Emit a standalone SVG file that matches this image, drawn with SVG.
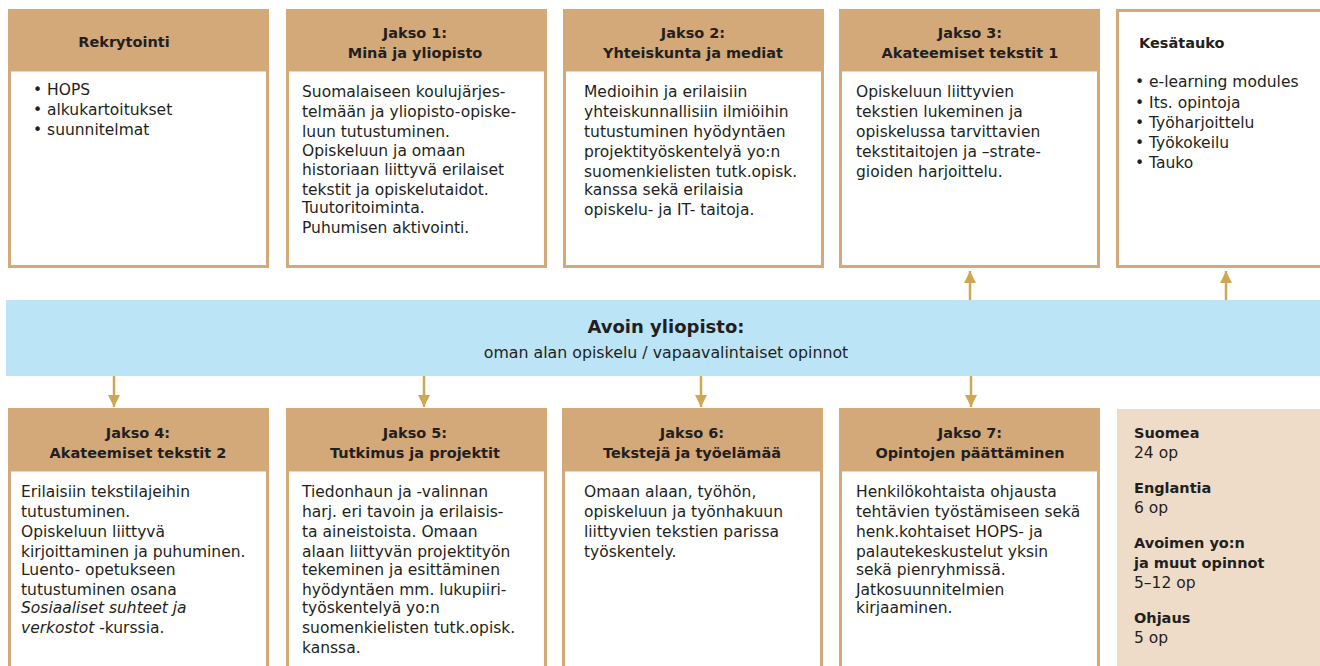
<svg xmlns="http://www.w3.org/2000/svg" width="1320" height="666" viewBox="0 0 1320 666">
<defs>
<style>
.box{fill:#fff;stroke:#d4a97a;stroke-width:3}
.hdr{fill:#d4a97a}
.t{font-family:"DejaVu Sans","Open Sans",sans-serif;font-size:15.5px;fill:#231f20}
.h{font-family:"DejaVu Sans","Open Sans",sans-serif;font-size:14.5px;font-weight:bold;fill:#231f20}
.c{text-anchor:middle}
.conn{stroke:#cfa752;stroke-width:2.5;fill:none}
</style>
<marker id="ah" viewBox="0 0 10 10" refX="10" refY="5" markerWidth="12" markerHeight="12" markerUnits="userSpaceOnUse" orient="auto">
<path d="M0,0 L10,5 L0,10 z" fill="#cfa752"/>
</marker>
</defs>
<rect width="1320" height="666" fill="#fff"/>

<g id="rekrytointi">
<rect class="box" x="9.5" y="10.5" width="258" height="256"/>
<rect class="hdr" x="9.5" y="10.5" width="258" height="61"/>
<text class="h c" x="124" y="47">Rekrytointi</text>
<text class="t" x="33" y="95">• HOPS</text>
<text class="t" x="33" y="115">• alkukartoitukset</text>
<text class="t" x="33" y="135">• suunnitelmat</text>
</g>

<g id="jakso1">
<rect class="box" x="287.5" y="10.5" width="258" height="256"/>
<rect class="hdr" x="287.5" y="10.5" width="258" height="61"/>
<text class="h c" x="415" y="38">Jakso 1:</text>
<text class="h c" x="415" y="58">Minä ja yliopisto</text>
<text class="t" x="302"><tspan x="302" y="97">Suomalaiseen koulujärjes-</tspan><tspan x="302" y="117">telmään ja yliopisto-opiske-</tspan><tspan x="302" y="137">luun tutustuminen.</tspan><tspan x="302" y="156">Opiskeluun ja omaan</tspan><tspan x="302" y="175">historiaan liittyvä erilaiset</tspan><tspan x="302" y="195">tekstit ja opiskelutaidot.</tspan><tspan x="302" y="213">Tuutoritoiminta.</tspan><tspan x="302" y="233">Puhumisen aktivointi.</tspan></text>
</g>

<g id="jakso2">
<rect class="box" x="564.5" y="10.5" width="258" height="256"/>
<rect class="hdr" x="564.5" y="10.5" width="258" height="61"/>
<text class="h c" x="693" y="38">Jakso 2:</text>
<text class="h c" x="693" y="58">Yhteiskunta ja mediat</text>
<text class="t"><tspan x="584" y="97">Medioihin ja erilaisiin</tspan><tspan x="584" y="117">yhteiskunnallisiin ilmiöihin</tspan><tspan x="584" y="137">tutustuminen hyödyntäen</tspan><tspan x="584" y="157">projektityöskentelyä yo:n</tspan><tspan x="584" y="177">suomenkielisten tutk.opisk.</tspan><tspan x="584" y="195">kanssa sekä erilaisia</tspan><tspan x="584" y="215">opiskelu- ja IT- taitoja.</tspan></text>
</g>

<g id="jakso3">
<rect class="box" x="840.5" y="10.5" width="258" height="256"/>
<rect class="hdr" x="840.5" y="10.5" width="258" height="61"/>
<text class="h c" x="970" y="38">Jakso 3:</text>
<text class="h c" x="970" y="58">Akateemiset tekstit 1</text>
<text class="t"><tspan x="856" y="97">Opiskeluun liittyvien</tspan><tspan x="856" y="117">tekstien lukeminen ja</tspan><tspan x="856" y="137">opiskelussa tarvittavien</tspan><tspan x="856" y="157">tekstitaitojen ja –strate-</tspan><tspan x="856" y="177">gioiden harjoittelu.</tspan></text>
</g>

<g id="kesatauko">
<rect class="box" x="1117.5" y="10.5" width="210" height="256"/>
<text class="h" x="1139" y="48">Kesätauko</text>
<text class="t"><tspan x="1135" y="87">• e-learning modules</tspan><tspan x="1135" y="108">• Its. opintoja</tspan><tspan x="1135" y="128">• Työharjoittelu</tspan><tspan x="1135" y="148">• Työkokeilu</tspan><tspan x="1135" y="168">• Tauko</tspan></text>
</g>

<g id="avoin">
<rect x="6" y="300" width="1320" height="76" fill="#bce4f7"/>
<text class="h c" x="666" y="333" style="font-size:18px">Avoin yliopisto:</text>
<text class="t c" x="666" y="358" style="font-size:15.8px">oman alan opiskelu / vapaavalintaiset opinnot</text>
</g>

<g id="jakso4">
<rect class="box" x="9.5" y="409.5" width="258" height="270"/>
<rect class="hdr" x="9.5" y="409.5" width="258" height="62"/>
<text class="h c" x="138" y="438">Jakso 4:</text>
<text class="h c" x="138" y="458">Akateemiset tekstit 2</text>
<text class="t"><tspan x="21" y="497">Erilaisiin tekstilajeihin</tspan><tspan x="21" y="517">tutustuminen.</tspan><tspan x="21" y="537">Opiskeluun liittyvä</tspan><tspan x="21" y="557">kirjoittaminen ja puhuminen.</tspan><tspan x="21" y="575">Luento- opetukseen</tspan><tspan x="21" y="595">tutustuminen osana</tspan><tspan x="21" y="613" font-style="italic">Sosiaaliset suhteet ja</tspan><tspan x="21" y="633"><tspan font-style="italic">verkostot</tspan> -kurssia.</tspan></text>
</g>

<g id="jakso5">
<rect class="box" x="287.5" y="409.5" width="258" height="270"/>
<rect class="hdr" x="287.5" y="409.5" width="258" height="62"/>
<text class="h c" x="415" y="438">Jakso 5:</text>
<text class="h c" x="415" y="458">Tutkimus ja projektit</text>
<text class="t"><tspan x="302" y="497">Tiedonhaun ja -valinnan</tspan><tspan x="302" y="517">harj. eri tavoin ja erilaisis-</tspan><tspan x="302" y="537">ta aineistoista. Omaan</tspan><tspan x="302" y="557">alaan liittyvän projektityön</tspan><tspan x="302" y="575">tekeminen ja esittäminen</tspan><tspan x="302" y="595">hyödyntäen mm. lukupiiri-</tspan><tspan x="302" y="613">työskentelyä yo:n</tspan><tspan x="302" y="633">suomenkielisten tutk.opisk.</tspan><tspan x="302" y="653">kanssa.</tspan></text>
</g>

<g id="jakso6">
<rect class="box" x="563.5" y="409.5" width="258" height="270"/>
<rect class="hdr" x="563.5" y="409.5" width="258" height="62"/>
<text class="h c" x="692" y="438">Jakso 6:</text>
<text class="h c" x="692" y="458">Tekstejä ja työelämää</text>
<text class="t"><tspan x="584" y="497">Omaan alaan, työhön,</tspan><tspan x="584" y="517">opiskeluun ja työnhakuun</tspan><tspan x="584" y="537">liittyvien tekstien parissa</tspan><tspan x="584" y="557">työskentely.</tspan></text>
</g>

<g id="jakso7">
<rect class="box" x="840.5" y="409.5" width="258" height="270"/>
<rect class="hdr" x="840.5" y="409.5" width="258" height="62"/>
<text class="h c" x="970" y="438">Jakso 7:</text>
<text class="h c" x="970" y="458">Opintojen päättäminen</text>
<text class="t"><tspan x="856" y="497">Henkilökohtaista ohjausta</tspan><tspan x="856" y="517">tehtävien työstämiseen sekä</tspan><tspan x="856" y="537">henk.kohtaiset HOPS- ja</tspan><tspan x="856" y="557">palautekeskustelut yksin</tspan><tspan x="856" y="575">sekä pienryhmissä.</tspan><tspan x="856" y="595">Jatkosuunnitelmien</tspan><tspan x="856" y="613">kirjaaminen.</tspan></text>
</g>

<g id="opintopisteet">
<rect x="1117" y="409" width="210" height="270" fill="#eedcc9"/>
<text class="h" x="1134" y="438">Suomea</text>
<text class="t" x="1134" y="458">24 op</text>
<text class="h" x="1134" y="493">Englantia</text>
<text class="t" x="1134" y="513">6 op</text>
<text class="h" x="1134" y="548">Avoimen yo:n</text>
<text class="h" x="1134" y="568">ja muut opinnot</text>
<text class="t" x="1134" y="588">5–12 op</text>
<text class="h" x="1134" y="623">Ohjaus</text>
<text class="t" x="1134" y="643">5 op</text>
</g>

<g id="connectors">
<line class="conn" x1="970" y1="300" x2="970" y2="271" marker-end="url(#ah)"/>
<line class="conn" x1="1226" y1="300" x2="1226" y2="271" marker-end="url(#ah)"/>
<line class="conn" x1="114" y1="376" x2="114" y2="407" marker-end="url(#ah)"/>
<line class="conn" x1="424" y1="376" x2="424" y2="407" marker-end="url(#ah)"/>
<line class="conn" x1="701" y1="376" x2="701" y2="407" marker-end="url(#ah)"/>
<line class="conn" x1="971" y1="376" x2="971" y2="407" marker-end="url(#ah)"/>
</g>
</svg>
